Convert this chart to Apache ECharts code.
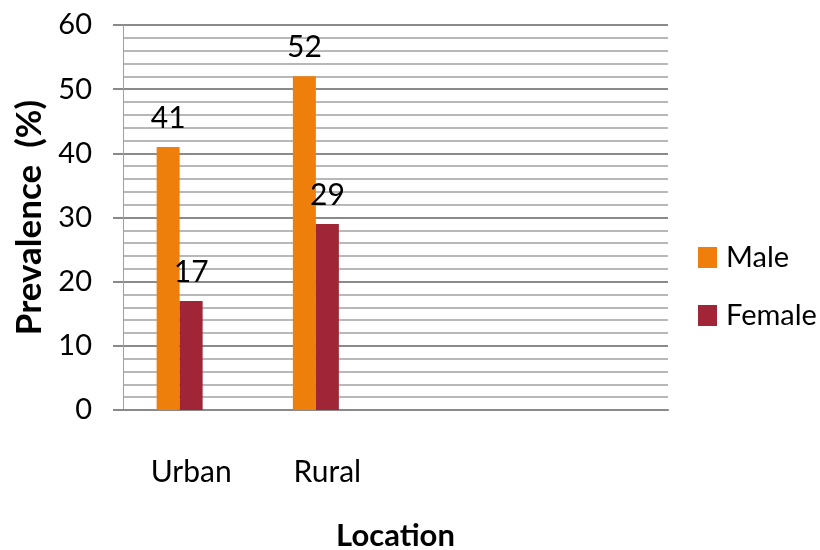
<!DOCTYPE html>
<html>
<head>
<meta charset="utf-8">
<script src="https://cdn.jsdelivr.net/npm/echarts@6/dist/echarts.min.js"></script>
<style>
html,body{margin:0;padding:0;background:#fff;}
#c{width:820px;height:550px;}
</style>
</head>
<body>
<div id="c"></div>
<script>
const categories = ['Urban', 'Rural', '', ''];
const maleValues = [41, 52, null, null];
const femaleValues = [17, 29, null, null];
const blankValues = [null, null, null, null];
const seriesNames = ['Male', 'Female'];
const yTicks = [0, 10, 20, 30, 40, 50, 60];

const FONT = 'Lato, "Liberation Sans", sans-serif';
const chart = echarts.init(document.getElementById('c'), null, {renderer: 'canvas'});

const labelStyle = {
  show: true,
  position: 'top',
  distance: 14,
  color: '#000',
  fontFamily: FONT,
  fontSize: 30
};

chart.setOption({
  animation: false,
  backgroundColor: '#fff',
  textStyle: {fontFamily: FONT},
  grid: {left: 123, right: 152, top: 25, bottom: 140, containLabel: false, outerBoundsMode: 'none'},
  legend: {
    orient: 'vertical',
    left: 693,
    top: 238,
    itemWidth: 19,
    itemHeight: 21,
    itemGap: 29,
    icon: 'rect',
    data: seriesNames,
    textStyle: {fontFamily: FONT, fontSize: 29, color: '#000', padding: [0, 0, 0, 4]}
  },
  xAxis: {
    type: 'category',
    data: categories,
    name: 'Location',
    nameLocation: 'middle',
    nameGap: 110,
    nameTextStyle: {fontFamily: FONT, fontWeight: 'bold', fontSize: 31, color: '#000'},
    axisLine: {show: true, lineStyle: {color: '#8a8a8a', width: 2}},
    axisTick: {show: false},
    axisLabel: {margin: 47, color: '#000', fontFamily: FONT, fontSize: 30},
    splitLine: {show: false}
  },
  yAxis: {
    type: 'value',
    min: 0,
    max: 60,
    interval: 10,
    name: 'Prevalence  (%)',
    nameLocation: 'middle',
    nameGap: 71,
    nameTextStyle: {fontFamily: FONT, fontWeight: 'bold', fontSize: 35, color: '#000'},
    axisLine: {show: true, lineStyle: {color: '#a0a0a0', width: 1}},
    axisTick: {show: true, length: 10, lineStyle: {color: '#8a8a8a', width: 2}},
    axisLabel: {
      margin: 31, color: '#000', fontFamily: FONT, fontSize: 29,
      formatter: function (v) { return yTicks.indexOf(v) >= 0 ? String(v) : ''; }
    },
    splitLine: {show: true, lineStyle: {color: '#8a8a8a', width: 2}},
    minorTick: {show: false, splitNumber: 5},
    minorSplitLine: {show: true, lineStyle: {color: '#b8b8b8', width: 2}}
  },
  series: [
    {
      name: seriesNames[0],
      type: 'bar',
      data: maleValues,
      barWidth: 23,
      barGap: '0%',
      itemStyle: {color: '#ef7f0b'},
      label: labelStyle
    },
    {
      name: seriesNames[1],
      type: 'bar',
      data: femaleValues,
      barWidth: 23,
      barGap: '0%',
      itemStyle: {color: '#a02637'},
      label: labelStyle
    },
    {
      name: 'blank',
      type: 'bar',
      data: blankValues,
      barWidth: 23,
      barGap: '0%',
      itemStyle: {color: 'transparent'},
      label: {show: false}
    }
  ]
});
</script>
</body>
</html>
